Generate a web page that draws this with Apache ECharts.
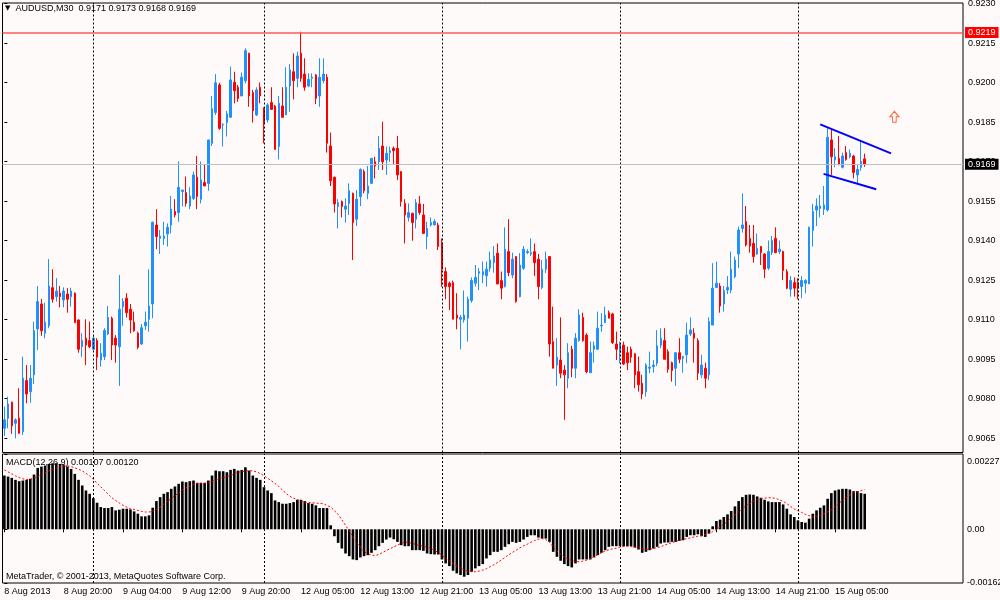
<!DOCTYPE html>
<html><head><meta charset="utf-8">
<script src="https://cdn.jsdelivr.net/npm/echarts@6/dist/echarts.min.js"></script>
<style>html,body{margin:0;padding:0;background:#fffafa}#c{width:1000px;height:600px}</style>
</head><body><div id="c"></div>
<script>
// ---- AUDUSD M30 candles ----
const opens = [
0.90687,0.90725,0.90786,0.90706,0.90725,0.90674,0.90868,0.90826,0.90890,0.91064,
0.91159,0.91048,0.91076,0.91221,0.91187,0.91200,0.91174,0.91197,0.91187,0.91200,
0.91098,0.90997,0.91029,0.91020,0.90987,0.91020,0.90946,0.90959,0.91045,0.91105,
0.91029,0.90997,0.91149,0.91181,0.91139,0.91090,0.91048,0.91007,0.91076,0.91101,
0.91159,0.91459,0.91408,0.91408,0.91425,0.91459,0.91510,0.91506,0.91586,0.91582,
0.91531,0.91560,0.91640,0.91557,0.91620,0.91617,0.91769,0.91886,0.91991,0.91839,
0.91848,0.91868,0.92001,0.91982,0.91949,0.92007,0.92111,0.91962,0.91877,0.91982,
0.91902,0.91858,0.91924,0.91911,0.91757,0.91911,0.91877,0.91987,0.92041,0.92016,
0.92111,0.92032,0.91987,0.92016,0.92029,0.91949,0.92007,0.92020,0.91759,0.91640,
0.91529,0.91548,0.91519,0.91541,0.91579,0.91481,0.91567,0.91662,0.91579,0.91617,
0.91699,0.91699,0.91759,0.91706,0.91734,0.91750,0.91750,0.91662,0.91541,0.91488,
0.91503,0.91481,0.91539,0.91497,0.91415,0.91459,0.91459,0.91459,0.91392,0.91282,
0.91238,0.91240,0.91117,0.91101,0.91098,0.91105,0.91172,0.91238,0.91276,0.91269,
0.91266,0.91295,0.91316,0.91352,0.91248,0.91225,0.91358,0.91269,0.91339,0.91187,
0.91295,0.91354,0.91349,0.91358,0.91329,0.91222,0.91291,0.91339,0.91016,0.90927,
0.90946,0.90908,0.90877,0.90987,0.90915,0.91020,0.91108,0.91041,0.90898,0.90987,
0.90987,0.91076,0.91088,0.91126,0.91121,0.91007,0.90974,0.91003,0.90974,0.90987,
0.90970,0.90902,0.90858,0.90826,0.90915,0.90921,0.90934,0.91003,0.91020,0.90978,
0.90936,0.90915,0.90974,0.90953,0.90966,0.91045,0.91048,0.91020,0.90890,0.90915,
0.90890,0.91079,0.91222,0.91227,0.91159,0.91212,0.91212,0.91263,0.91349,0.91446,
0.91472,0.91408,0.91389,0.91349,0.91377,0.91349,0.91295,0.91354,0.91408,0.91358,
0.91358,0.91282,0.91215,0.91240,0.91240,0.91225,0.91238,0.91235,0.91438,0.91516,
0.91522,0.91519,0.91516,0.91782,0.91706,0.91712,0.91678,0.91734,0.91718,0.91721,
0.91649,0.91678,0.91710];
const highs = [
0.90769,0.90807,0.90788,0.90725,0.90839,0.90959,0.90927,0.90927,0.91092,0.91227,
0.91178,0.91164,0.91330,0.91291,0.91257,0.91227,0.91222,0.91219,0.91221,0.91203,
0.91101,0.91048,0.91101,0.91092,0.91041,0.91029,0.91010,0.91067,0.91151,0.91111,
0.91041,0.91269,0.91181,0.91200,0.91159,0.91130,0.91054,0.91083,0.91130,0.91291,
0.91472,0.91519,0.91440,0.91471,0.91465,0.91569,0.91557,0.91700,0.91592,0.91643,
0.91602,0.91662,0.91721,0.91700,0.91691,0.91782,0.91949,0.92032,0.91999,0.91845,
0.91892,0.92060,0.92041,0.91991,0.92038,0.92130,0.92113,0.91972,0.91982,0.92000,
0.91906,0.91921,0.91982,0.91915,0.91949,0.91982,0.92058,0.92070,0.92111,0.92117,
0.92193,0.92092,0.92035,0.92035,0.92032,0.92092,0.92092,0.92032,0.91810,0.91643,
0.91557,0.91552,0.91560,0.91617,0.91582,0.91592,0.91674,0.91670,0.91683,0.91712,
0.91718,0.91797,0.91851,0.91757,0.91757,0.91757,0.91797,0.91662,0.91557,0.91541,
0.91506,0.91557,0.91569,0.91539,0.91471,0.91488,0.91481,0.91468,0.91408,0.91298,
0.91244,0.91248,0.91200,0.91117,0.91210,0.91187,0.91260,0.91307,0.91295,0.91320,
0.91320,0.91358,0.91379,0.91389,0.91282,0.91450,0.91481,0.91354,0.91341,0.91352,
0.91379,0.91367,0.91408,0.91389,0.91349,0.91326,0.91358,0.91341,0.91149,0.91029,
0.91108,0.90927,0.91010,0.91000,0.91048,0.91139,0.91126,0.91048,0.91016,0.91016,
0.91130,0.91124,0.91149,0.91134,0.91126,0.91054,0.91016,0.91016,0.90997,0.90997,
0.90972,0.90959,0.90890,0.90934,0.90978,0.90946,0.91060,0.91067,0.91067,0.90987,
0.90940,0.90974,0.91029,0.90962,0.91088,0.91108,0.91067,0.91029,0.90966,0.90936,
0.91108,0.91314,0.91320,0.91238,0.91227,0.91265,0.91358,0.91339,0.91453,0.91579,
0.91531,0.91459,0.91459,0.91427,0.91379,0.91352,0.91400,0.91417,0.91450,0.91400,
0.91362,0.91291,0.91265,0.91260,0.91257,0.91265,0.91253,0.91453,0.91539,0.91560,
0.91573,0.91607,0.91826,0.91822,0.91750,0.91797,0.91734,0.91759,0.91746,0.91725,
0.91687,0.91775,0.91730];
const lows = [
0.90658,0.90687,0.90666,0.90649,0.90666,0.90662,0.90782,0.90784,0.90855,0.90984,
0.91038,0.91029,0.91067,0.91164,0.91168,0.91146,0.91146,0.91126,0.91149,0.91088,
0.90974,0.90957,0.90927,0.90991,0.90984,0.90908,0.90921,0.90946,0.91041,0.90946,
0.90936,0.90848,0.91076,0.91108,0.91048,0.91054,0.90987,0.91003,0.91060,0.91054,
0.91105,0.91367,0.91349,0.91383,0.91377,0.91427,0.91488,0.91471,0.91529,0.91529,
0.91519,0.91554,0.91519,0.91541,0.91607,0.91589,0.91759,0.91877,0.91820,0.91757,
0.91795,0.91868,0.91921,0.91927,0.91949,0.91997,0.91908,0.91848,0.91873,0.91921,
0.91769,0.91848,0.91898,0.91746,0.91708,0.91868,0.91877,0.91889,0.91936,0.91982,
0.92003,0.91969,0.91982,0.91982,0.91918,0.91908,0.91997,0.91734,0.91607,0.91506,
0.91446,0.91488,0.91468,0.91497,0.91326,0.91455,0.91531,0.91579,0.91557,0.91617,
0.91636,0.91668,0.91668,0.91649,0.91699,0.91691,0.91630,0.91529,0.91389,0.91472,
0.91399,0.91446,0.91497,0.91425,0.91367,0.91453,0.91459,0.91364,0.91225,0.91177,
0.91136,0.91101,0.91063,0.90987,0.91088,0.91016,0.91164,0.91225,0.91212,0.91238,
0.91225,0.91282,0.91278,0.91235,0.91177,0.91222,0.91265,0.91257,0.91164,0.91184,
0.91288,0.91349,0.91341,0.91265,0.91177,0.91215,0.91276,0.90959,0.90915,0.90848,
0.90877,0.90719,0.90839,0.90881,0.90877,0.91016,0.91016,0.90896,0.90898,0.90936,
0.90987,0.91054,0.91088,0.91105,0.91007,0.90946,0.90934,0.90927,0.90908,0.90936,
0.90839,0.90826,0.90797,0.90807,0.90896,0.90898,0.90924,0.90991,0.90949,0.90898,
0.90864,0.90848,0.90934,0.90898,0.90934,0.91038,0.90936,0.90870,0.90877,0.90839,
0.90870,0.91079,0.91219,0.91126,0.91130,0.91197,0.91200,0.91257,0.91295,0.91430,
0.91377,0.91354,0.91316,0.91345,0.91307,0.91257,0.91288,0.91345,0.91352,0.91349,
0.91250,0.91215,0.91187,0.91187,0.91177,0.91181,0.91200,0.91235,0.91377,0.91455,
0.91488,0.91497,0.91510,0.91649,0.91678,0.91687,0.91674,0.91703,0.91712,0.91636,
0.91615,0.91665,0.91680];
const closes = [
0.90719,0.90779,0.90696,0.90719,0.90668,0.90877,0.90817,0.90877,0.91058,0.91168,
0.91057,0.91090,0.91227,0.91177,0.91208,0.91187,0.91208,0.91177,0.91208,0.91088,
0.90987,0.91020,0.91003,0.90997,0.91029,0.90957,0.90972,0.91058,0.91108,0.91003,
0.91003,0.91139,0.91168,0.91126,0.91098,0.91057,0.90995,0.91069,0.91090,0.91151,
0.91469,0.91415,0.91417,0.91417,0.91450,0.91519,0.91497,0.91602,0.91592,0.91541,
0.91569,0.91649,0.91567,0.91630,0.91607,0.91782,0.91900,0.91999,0.91826,0.91841,
0.91881,0.92010,0.91969,0.91939,0.92020,0.92121,0.91949,0.91893,0.91972,0.91949,
0.91848,0.91915,0.91898,0.91746,0.91921,0.91868,0.91982,0.92048,0.92007,0.92101,
0.92016,0.91982,0.92012,0.92020,0.91940,0.92020,0.92032,0.91769,0.91627,0.91539,
0.91544,0.91529,0.91531,0.91589,0.91468,0.91557,0.91670,0.91589,0.91607,0.91712,
0.91683,0.91750,0.91699,0.91731,0.91741,0.91741,0.91649,0.91548,0.91497,0.91506,
0.91468,0.91544,0.91506,0.91427,0.91446,0.91468,0.91472,0.91377,0.91291,0.91225,
0.91225,0.91101,0.91105,0.91108,0.91117,0.91177,0.91248,0.91260,0.91282,0.91282,
0.91291,0.91326,0.91341,0.91235,0.91219,0.91367,0.91278,0.91329,0.91168,0.91307,
0.91367,0.91358,0.91354,0.91316,0.91225,0.91291,0.91329,0.91007,0.90915,0.90957,
0.90896,0.90890,0.90974,0.90915,0.91029,0.91117,0.91020,0.90902,0.90974,0.91000,
0.91067,0.91079,0.91117,0.91105,0.91012,0.90987,0.91007,0.90931,0.90936,0.90957,
0.90890,0.90852,0.90817,0.90927,0.90919,0.90927,0.91000,0.91029,0.90949,0.90911,
0.90906,0.90974,0.90949,0.90959,0.91041,0.91060,0.91029,0.90896,0.90927,0.90877,
0.91092,0.91219,0.91238,0.91151,0.91210,0.91222,0.91291,0.91326,0.91440,0.91459,
0.91383,0.91379,0.91339,0.91370,0.91354,0.91291,0.91358,0.91400,0.91354,0.91367,
0.91286,0.91219,0.91248,0.91219,0.91219,0.91248,0.91248,0.91450,0.91510,0.91531,
0.91531,0.91535,0.91792,0.91718,0.91718,0.91687,0.91721,0.91708,0.91731,0.91658,
0.91670,0.91700,0.91690];

// ---- MACD(12,26,9): main (histogram) and signal ----
const macdMain = [
0.00162,0.00159,0.00155,0.00149,0.00145,0.00147,0.00149,0.00152,0.00165,0.00185,
0.00189,0.00192,0.00197,0.00199,0.00199,0.00197,0.00195,0.00189,0.00182,0.00167,
0.00149,0.00132,0.00117,0.00107,0.00094,0.00080,0.00067,0.00064,0.00064,0.00067,
0.00057,0.00059,0.00062,0.00062,0.00060,0.00054,0.00047,0.00039,0.00039,0.00042,
0.00065,0.00085,0.00097,0.00107,0.00112,0.00122,0.00129,0.00137,0.00144,0.00142,
0.00145,0.00147,0.00140,0.00140,0.00140,0.00147,0.00162,0.00177,0.00175,0.00175,
0.00172,0.00179,0.00182,0.00177,0.00179,0.00187,0.00177,0.00162,0.00155,0.00149,
0.00127,0.00117,0.00109,0.00087,0.00082,0.00077,0.00077,0.00079,0.00082,0.00089,
0.00089,0.00085,0.00079,0.00077,0.00072,0.00064,0.00064,0.00064,0.00012,-0.00021,
-0.00041,-0.00058,-0.00073,-0.00081,-0.00091,-0.00093,-0.00085,-0.00081,-0.00078,-0.00071,
-0.00063,-0.00051,-0.00041,-0.00031,-0.00025,-0.00030,-0.00038,-0.00048,-0.00051,-0.00051,
-0.00063,-0.00063,-0.00063,-0.00065,-0.00073,-0.00075,-0.00076,-0.00076,-0.00091,-0.00103,
-0.00111,-0.00125,-0.00133,-0.00138,-0.00143,-0.00138,-0.00128,-0.00118,-0.00111,-0.00105,
-0.00088,-0.00078,-0.00068,-0.00068,-0.00063,-0.00053,-0.00045,-0.00038,-0.00041,-0.00038,
-0.00031,-0.00023,-0.00018,-0.00018,-0.00025,-0.00028,-0.00028,-0.00038,-0.00068,-0.00083,
-0.00095,-0.00105,-0.00111,-0.00115,-0.00103,-0.00091,-0.00091,-0.00091,-0.00091,-0.00085,
-0.00078,-0.00071,-0.00063,-0.00053,-0.00051,-0.00051,-0.00051,-0.00051,-0.00051,-0.00051,
-0.00055,-0.00061,-0.00071,-0.00068,-0.00063,-0.00058,-0.00053,-0.00043,-0.00040,-0.00040,
-0.00038,-0.00038,-0.00035,-0.00033,-0.00023,-0.00018,-0.00018,-0.00015,-0.00021,-0.00023,
-0.00013,0.00009,0.00025,0.00029,0.00037,0.00045,0.00055,0.00069,0.00085,0.00097,
0.00104,0.00105,0.00104,0.00099,0.00095,0.00089,0.00084,0.00082,0.00082,0.00082,
0.00075,0.00062,0.00045,0.00037,0.00027,0.00022,0.00020,0.00032,0.00047,0.00057,
0.00065,0.00072,0.00092,0.00109,0.00117,0.00120,0.00122,0.00122,0.00120,0.00115,
0.00115,0.00109,0.00107];
const macdSignal = [
0.00179,0.00173,0.00167,0.00161,0.00156,0.00152,0.00150,0.00151,0.00155,0.00159,
0.00164,0.00170,0.00176,0.00181,0.00185,0.00189,0.00191,0.00191,0.00189,0.00185,
0.00181,0.00176,0.00169,0.00161,0.00151,0.00139,0.00128,0.00117,0.00106,0.00095,
0.00087,0.00079,0.00072,0.00067,0.00062,0.00060,0.00057,0.00054,0.00052,0.00052,
0.00054,0.00060,0.00067,0.00076,0.00084,0.00093,0.00101,0.00110,0.00118,0.00125,
0.00130,0.00135,0.00139,0.00139,0.00139,0.00141,0.00144,0.00148,0.00152,0.00156,
0.00159,0.00162,0.00167,0.00172,0.00174,0.00175,0.00177,0.00176,0.00173,0.00168,
0.00162,0.00154,0.00146,0.00138,0.00129,0.00118,0.00108,0.00099,0.00094,0.00089,
0.00085,0.00082,0.00081,0.00080,0.00079,0.00078,0.00077,0.00072,0.00067,0.00056,
0.00045,0.00029,0.00012,-0.00005,-0.00023,-0.00041,-0.00053,-0.00068,-0.00073,-0.00078,
-0.00079,-0.00076,-0.00070,-0.00064,-0.00059,-0.00053,-0.00048,-0.00042,-0.00038,-0.00040,
-0.00042,-0.00046,-0.00049,-0.00051,-0.00054,-0.00058,-0.00064,-0.00070,-0.00078,-0.00087,
-0.00095,-0.00103,-0.00111,-0.00117,-0.00123,-0.00126,-0.00128,-0.00128,-0.00126,-0.00123,
-0.00119,-0.00113,-0.00107,-0.00100,-0.00093,-0.00085,-0.00077,-0.00070,-0.00063,-0.00056,
-0.00050,-0.00045,-0.00039,-0.00034,-0.00030,-0.00028,-0.00031,-0.00039,-0.00053,-0.00065,
-0.00076,-0.00083,-0.00090,-0.00094,-0.00097,-0.00098,-0.00096,-0.00093,-0.00088,-0.00082,
-0.00077,-0.00071,-0.00065,-0.00062,-0.00059,-0.00057,-0.00054,-0.00052,-0.00051,-0.00052,
-0.00054,-0.00056,-0.00059,-0.00061,-0.00060,-0.00058,-0.00055,-0.00053,-0.00048,-0.00044,
-0.00040,-0.00037,-0.00033,-0.00031,-0.00028,-0.00026,-0.00023,-0.00021,-0.00019,-0.00016,
-0.00012,-0.00007,0.00000,0.00007,0.00015,0.00024,0.00033,0.00043,0.00052,0.00062,
0.00071,0.00078,0.00085,0.00089,0.00092,0.00094,0.00095,0.00095,0.00093,0.00089,
0.00084,0.00077,0.00069,0.00061,0.00056,0.00051,0.00045,0.00041,0.00037,0.00039,
0.00042,0.00047,0.00052,0.00060,0.00068,0.00077,0.00088,0.00096,0.00103,0.00109,
0.00113,0.00116,0.00120];

// ---- axis labels / objects ----
const timeTickIndex = [0,16,32,48,64,80,96,112,128,144,160,176,192,208,224];
const timeTickLabels = ['8 Aug 2013','8 Aug 20:00','9 Aug 04:00','9 Aug 12:00','9 Aug 20:00',
  '12 Aug 05:00','12 Aug 13:00','12 Aug 21:00','13 Aug 05:00','13 Aug 13:00','13 Aug 21:00',
  '14 Aug 05:00','14 Aug 13:00','14 Aug 21:00','15 Aug 05:00'];
const priceTicks = [0.9065,0.9080,0.9095,0.9110,0.9125,0.9140,0.9155,0.9170,0.9185,0.9200,0.9215,0.9230];
const macdTicks = [-0.00162, 0, 0.00227];
const daySeparators = [24, 70, 118, 166, 214];
const levelRed = 0.9219;
const bidLine = 0.9169;
const flagUpper = [[220.0, 0.91841], [239.1, 0.91731]];
const flagLower = [[220.9, 0.91653], [235.1, 0.91595]];
const arrowPoint = [[240.0, 0.91870]];

const N_SLOTS = 259;
const slots = Array.from({length: N_SLOTS}, (_, i) => String(i));
const candleData = opens.map((o, i) => [o, closes[i], lows[i], highs[i]]);
const labelMap = {};
timeTickIndex.forEach((ix, k) => { labelMap[ix] = timeTickLabels[k]; });
const FONT = "'Liberation Sans', Arial, sans-serif";
const sepStyle = {color: '#000', width: 1, type: [2, 2]};
const makeSeps = () => daySeparators.map(x => ({xAxis: x, lineStyle: sepStyle, label: {show: false}}));
const priceLabel = (bg) => ({show: true, position: 'end', distance: 2, color: '#fff',
  backgroundColor: bg, padding: [1, 3, 1, 3], fontSize: 9, fontFamily: FONT});

const chart = echarts.init(document.getElementById('c'));
chart.setOption({
  animation: false,
  backgroundColor: '#fffafa',
  textStyle: {fontFamily: FONT},
  title: [
    {text: '{tri|▼}  AUDUSD,M30  0.9171 0.9173 0.9168 0.9169', left: 5, top: 4, padding: 0,
     textStyle: {fontSize: 9, fontWeight: 'normal', color: '#000', fontFamily: FONT,
       rich: {tri: {fontSize: 7, color: '#000', fontFamily: 'DejaVu Sans'}}}},
    {text: 'MACD(12,26,9) 0.00107 0.00120', left: 6, top: 458, padding: 0,
     textStyle: {fontSize: 9, fontWeight: 'normal', color: '#000', fontFamily: FONT}},
    {text: 'MetaTrader, © 2001-2013, MetaQuotes Software Corp.', left: 6, top: 572, padding: 0,
     textStyle: {fontSize: 9, fontWeight: 'normal', color: '#000', fontFamily: FONT}}
  ],
  grid: [
    {left: 2.5, right: 37, top: 3, height: 449.5, show: true, borderColor: '#000', borderWidth: 1,
     backgroundColor: '#fffafa', containLabel: false, outerBoundsMode: 'none'},
    {left: 2.5, right: 37, top: 454, height: 129, show: true, borderColor: '#000', borderWidth: 1,
     backgroundColor: '#fffafa', containLabel: false, outerBoundsMode: 'none'}
  ],
  xAxis: [
    {type: 'category', gridIndex: 0, data: slots, boundaryGap: true,
     axisLine: {show: false}, axisTick: {show: false}, axisLabel: {show: false}, splitLine: {show: false}},
    {type: 'category', gridIndex: 1, data: slots, boundaryGap: true,
     axisLine: {show: false}, splitLine: {show: false},
     axisTick: {show: true, alignWithLabel: true, length: 3, lineStyle: {color: '#000'},
       interval: (index) => labelMap[index] !== undefined},
     axisLabel: {show: true, color: '#000', fontSize: 9, fontFamily: FONT, align: 'left', margin: 4,
       interval: (index) => labelMap[index] !== undefined,
       formatter: (v, index) => labelMap[index] || ''}},
    {type: 'value', gridIndex: 0, position: 'top', min: -0.5, max: N_SLOTS - 0.5, show: false},
    {type: 'value', gridIndex: 1, position: 'top', min: -0.5, max: N_SLOTS - 0.5, show: false}
  ],
  yAxis: [
    {type: 'value', gridIndex: 0, position: 'right', min: 0.90595, max: 0.92302,
     axisLine: {show: false}, splitLine: {show: false},
     axisTick: {show: true, length: 3, lineStyle: {color: '#000'}, customValues: priceTicks},
     axisLabel: {color: '#000', fontSize: 9, fontFamily: FONT, margin: 5, customValues: priceTicks,
       formatter: v => v.toFixed(4)}},
    {type: 'value', gridIndex: 1, position: 'right', min: macdTicks[0], max: macdTicks[2],
     axisLine: {show: false}, splitLine: {show: false},
     axisTick: {show: true, length: 3, lineStyle: {color: '#000'}, customValues: macdTicks},
     axisLabel: {color: '#000', fontSize: 9, fontFamily: FONT, margin: 4, customValues: macdTicks,
       formatter: v => v === 0 ? '0.00' : (v > 0 ? '{top|' + v.toFixed(5) + '}' : v.toFixed(5)),
       rich: {top: {padding: [16, 0, 0, 0], fontSize: 9, color: '#000', fontFamily: FONT}}}}
  ],
  series: [
    // horizontal levels + day separators on the price panel (value x axis)
    {type: 'line', xAxisIndex: 2, yAxisIndex: 0, data: [], symbol: 'none', silent: true, z: 1,
     markLine: {silent: true, symbol: ['none', 'none'], animation: false, precision: 5,
       data: [
         ...makeSeps(),
         {yAxis: levelRed, lineStyle: {color: '#ff5a5a', width: 1.5, type: 'solid'},
          label: Object.assign(priceLabel('#ff0000'), {formatter: levelRed.toFixed(4)})},
         {yAxis: bidLine, lineStyle: {color: '#c0c0c0', width: 1, type: 'solid'},
          label: Object.assign(priceLabel('#000'), {formatter: bidLine.toFixed(4)})}
       ]}},
    {type: 'candlestick', xAxisIndex: 0, yAxisIndex: 0, data: candleData, barWidth: 2, z: 3,
     itemStyle: {color: '#1e90ff', color0: '#ff0000', borderColor: '#1e90ff', borderColor0: '#ff0000', borderWidth: 1}},
    // day separators on the MACD panel
    {type: 'line', xAxisIndex: 3, yAxisIndex: 1, data: [], symbol: 'none', silent: true, z: 1,
     markLine: {silent: true, symbol: ['none', 'none'], animation: false, precision: 5, data: makeSeps()}},
    {type: 'bar', xAxisIndex: 1, yAxisIndex: 1, data: macdMain, barWidth: 2.6, z: 2,
     itemStyle: {color: '#000'}},
    {type: 'line', xAxisIndex: 1, yAxisIndex: 1, data: macdSignal, symbol: 'none', z: 3,
     lineStyle: {color: '#ff0000', width: 1, type: [2, 2]}},
    {type: 'line', xAxisIndex: 2, yAxisIndex: 0, data: flagUpper, symbol: 'none', z: 4,
     lineStyle: {color: '#0000ff', width: 2}},
    {type: 'line', xAxisIndex: 2, yAxisIndex: 0, data: flagLower, symbol: 'none', z: 4,
     lineStyle: {color: '#0000ff', width: 2}},
    {type: 'scatter', xAxisIndex: 2, yAxisIndex: 0, data: arrowPoint, z: 4,
     symbol: 'path://M5,0 L10,5 L7,5 L7,10 L3,10 L3,5 L0,5 Z', symbolSize: [9, 11],
     itemStyle: {color: '#fffafa', borderColor: '#ff4000', borderWidth: 1}}
  ]
});
</script>
</body></html>
